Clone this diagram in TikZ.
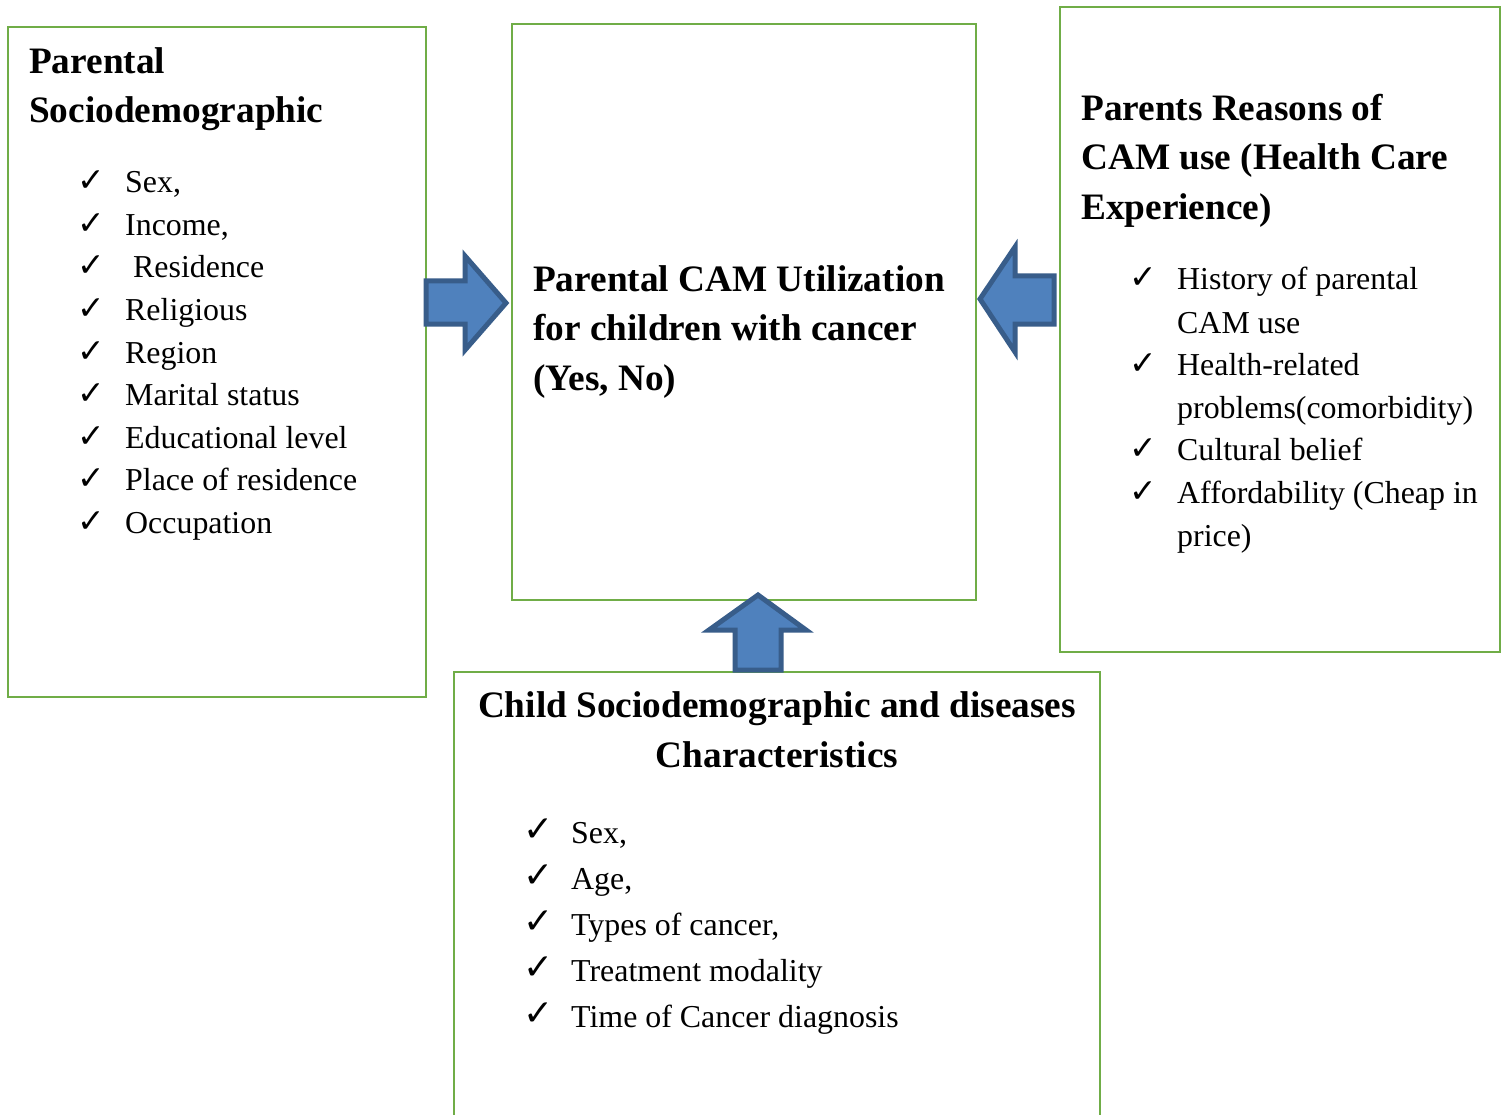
\documentclass[tikz,border=0pt]{standalone}
\usepackage{fontspec}
\setmainfont{Liberation Serif}
\newfontfamily\symfont{DejaVu Sans}
\definecolor{boxgreen}{HTML}{70AD47}
\definecolor{arrfill}{HTML}{4F81BD}
\definecolor{arrline}{HTML}{385D8A}
\begin{document}
\begin{tikzpicture}[x=1pt,y=-1pt,
  box/.style={draw=boxgreen, line width=2.6pt},
  blockarrow/.style={fill=arrfill, draw=arrline, line width=5pt, line join=miter},
  titletext/.style={inner sep=0pt, anchor=base west, font=\fontsize{37.3}{49.5}\selectfont\bfseries},
  listtext/.style={inner sep=0pt, anchor=base west, font=\fontsize{31.9}{42.5}\selectfont},
  tick/.style={inner sep=0pt, anchor=base west, font=\symfont\bfseries\fontsize{33}{33}\selectfont},
]
\clip (0,0) rectangle (1507,1115);
\fill[white] (0,0) rectangle (1507,1115);

% boxes
\draw[box] (8,27) rectangle (426,697);
\draw[box] (512,24) rectangle (976,600);
\draw[box] (1060,7) rectangle (1500,652);
\draw[box] (454,1130) -- (454,672) -- (1100,672) -- (1100,1130);
\coordinate (lbox) at (426,303);
\coordinate (cboxW) at (512,303);
\coordinate (cboxE) at (976,299);
\coordinate (rbox) at (1060,299);
\coordinate (cboxS) at (758,600);
\coordinate (bbox) at (758,672);

% block arrows
\draw[blockarrow] (426,281) -- (465,281) -- (465,256) -- (506,303) -- (465,350) -- (465,324) -- (426,324) -- cycle;
\draw[blockarrow] (1054,276) -- (1015,276) -- (1015,247) -- (980,299) -- (1015,352) -- (1015,324) -- (1054,324) -- cycle;
\draw[blockarrow] (735,670) -- (735,630) -- (709,630) -- (758,595) -- (806,630) -- (781,630) -- (781,670) -- cycle;

% left box
\node[titletext] (lt1) at (29,74) {Parental};
\node[titletext] (lt2) at (29,123) {Sociodemographic};
\foreach \t [count=\i from 0] in {Sex{,},Income{,},{},Religious,Region,Marital status,Educational level,Place of residence,Occupation}{
  \node[tick] (lc\i) at (77,{192+42.5*\i}) {✓};
  \node[listtext] (li\i) at (125,{193+42.5*\i}) {\t};
}
\node[listtext] (lres) at (133,278) {Residence};

% center box
\node[titletext] (ct1) at (533,291) {Parental CAM Utilization};
\node[titletext] (ct2) at (533,341) {for children with cancer};
\node[titletext] (ct3) at (533,390) {(Yes, No)};

% right box
\node[titletext] (rt1) at (1081,121) {Parents Reasons of};
\node[titletext] (rt2) at (1081,170) {CAM use (Health Care};
\node[titletext] (rt3) at (1081,220) {Experience)};
\node[tick] (rc1) at (1129,289) {✓};
\node[tick] (rc2) at (1129,374) {✓};
\node[tick] (rc3) at (1129,459) {✓};
\node[tick] (rc4) at (1129,502) {✓};
\node[listtext] (ri1) at (1177,290) {History of parental};
\node[listtext] (ri2) at (1177,333) {CAM use};
\node[listtext] (ri3) at (1177,375) {Health-related};
\node[listtext] (ri4) at (1177,418) {problems(comorbidity)};
\node[listtext] (ri5) at (1177,460) {Cultural belief};
\node[listtext] (ri6) at (1177,503) {Affordability (Cheap in};
\node[listtext] (ri7) at (1177,546) {price)};

% bottom box
\node[titletext, anchor=base] (bt1) at (777,717) {Child Sociodemographic and diseases};
\node[titletext, anchor=base] (bt2) at (777,767) {Characteristics};
\foreach \t [count=\i from 0] in {Sex{,},Age{,},Types of cancer{,},Treatment modality,Time of Cancer diagnosis}{
  \node[tick, font=\symfont\bfseries\fontsize{36}{36}\selectfont] (bc\i) at (523,{841+46*\i}) {✓};
  \node[listtext] (bi\i) at (571,{843+46*\i}) {\t};
}
\end{tikzpicture}
\end{document}
